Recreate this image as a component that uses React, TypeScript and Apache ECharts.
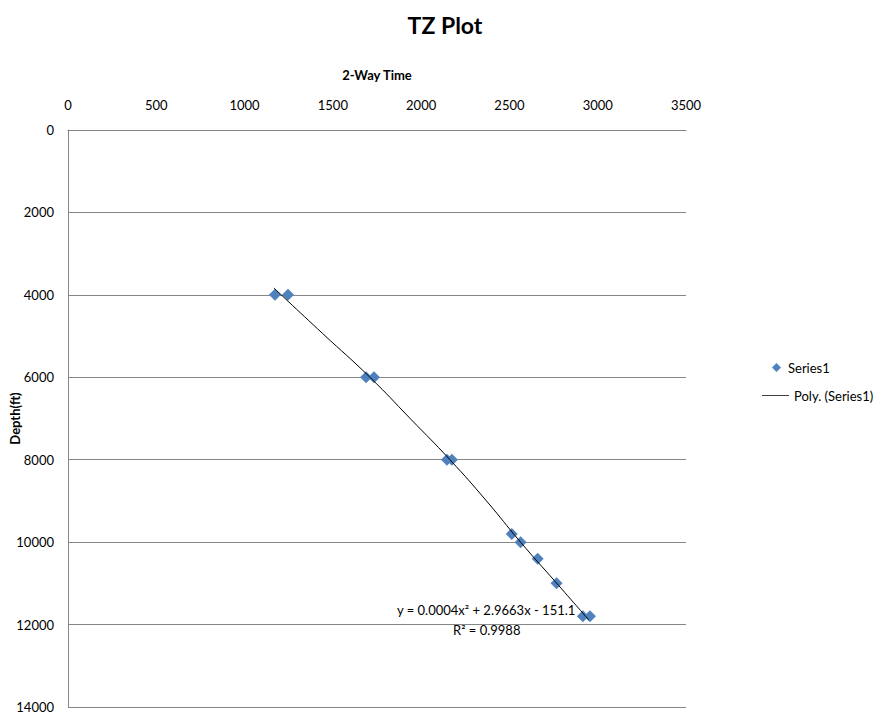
import React, { useEffect, useRef } from "react";
import * as echarts from "echarts";

const seriesName = "Series1";
const trendName = "Poly. (Series1)";
const timeValues = [1172, 1246, 1688, 1733, 2146, 2174, 2513, 2563, 2660, 2767, 2916, 2956];
const depthValues = [4000, 4000, 6000, 6000, 8000, 8000, 9800, 10000, 10400, 11000, 11800, 11800];
const trendTime = [1166, 1440, 1710, 1940, 2163, 2370, 2563, 2760, 2950];
const trendDepth = [3834, 4930, 6000, 7010, 8000, 9000, 10000, 10960, 11890];
const xTicks = { min: 0, max: 3500, interval: 500 };
const yTicks = { min: 0, max: 14000, interval: 2000 };
const equationText = "y = 0.0004x² + 2.9663x - 151.1";
const r2Text = "R² = 0.9988";

const FONT = "Lato, 'Open Sans', sans-serif";

export default function App() {
  const ref = useRef<HTMLDivElement>(null);
  useEffect(() => {
    document.body.style.margin = "0";
    const chart = echarts.init(ref.current!, null, { renderer: "svg" });
    const scatterData = timeValues.map((t, i) => [t, depthValues[i]]);
    const trendData = trendTime.map((t, i) => [t, trendDepth[i]]);
    const plain = (v: number) => String(v);
    chart.setOption({
      animation: false,
      textStyle: { fontFamily: FONT },
      title: {
        text: "TZ Plot",
        left: 440,
        textAlign: "center",
        top: 8,
        textStyle: { fontFamily: FONT, fontSize: 23, fontWeight: "bold", color: "#000" },
      },
      grid: { left: 68, top: 130, right: 188, bottom: 10, containLabel: false, outerBoundsMode: "none" },
      xAxis: {
        type: "value",
        position: "top",
        min: xTicks.min,
        max: xTicks.max,
        interval: xTicks.interval,
        name: "2-Way Time",
        nameLocation: "middle",
        nameGap: 49,
        nameMoveOverlap: false,
        nameTextStyle: { fontFamily: FONT, fontSize: 13, fontWeight: "bold", color: "#000" },
        axisLine: { show: true, onZero: false, lineStyle: { color: "#868686", width: 1 } },
        axisTick: { show: false },
        axisLabel: { margin: 19, fontFamily: FONT, fontSize: 13, color: "#000", formatter: plain },
        splitLine: { show: false },
      },
      yAxis: {
        type: "value",
        inverse: true,
        min: yTicks.min,
        max: yTicks.max,
        interval: yTicks.interval,
        name: "Depth(ft)",
        nameLocation: "middle",
        nameGap: 47,
        nameRotate: 90,
        nameMoveOverlap: false,
        nameTextStyle: { fontFamily: FONT, fontSize: 13, fontWeight: "bold", color: "#000" },
        axisLine: { show: true, onZero: false, lineStyle: { color: "#868686", width: 1 } },
        axisTick: { show: false },
        axisLabel: { margin: 14, fontFamily: FONT, fontSize: 13, color: "#000", formatter: plain },
        splitLine: { show: true, lineStyle: { color: "#868686", width: 1 } },
      },
      legend: [
        {
          data: [seriesName],
          left: 767,
          top: 356,
          itemWidth: 9,
          itemHeight: 9,
          icon: "diamond",
          itemStyle: { color: "#4F81BD" },
          textStyle: { fontFamily: FONT, fontSize: 13, color: "#000", padding: [0, 0, 0, 2] },
          selectedMode: false,
        },
        {
          data: [trendName],
          left: 757,
          top: 384,
          itemWidth: 27,
          itemHeight: 1,
          icon: "rect",
          itemStyle: { color: "#404040" },
          textStyle: { fontFamily: FONT, fontSize: 13, color: "#000" },
          selectedMode: false,
        },
      ],
      graphic: [
        {
          type: "text",
          left: 397,
          top: 603,
          style: { text: equationText, fill: "#000", font: `13px ${FONT}` },
        },
        {
          type: "text",
          left: 453,
          top: 623,
          style: { text: r2Text, fill: "#000", font: `13px ${FONT}` },
        },
      ],
      series: [
        {
          name: trendName,
          type: "line",
          data: trendData,
          smooth: true,
          symbol: "none",
          lineStyle: { color: "#000", width: 1 },
          itemStyle: { color: "#000" },
          z: 3,
        },
        {
          name: seriesName,
          type: "scatter",
          data: scatterData,
          symbol: "diamond",
          symbolSize: 12,
          itemStyle: { color: "#4F81BD", opacity: 1 },
          z: 2,
        },
      ],
    });
    return () => chart.dispose();
  }, []);
  return <div ref={ref} style={{ width: 874, height: 717 }} />;
}
